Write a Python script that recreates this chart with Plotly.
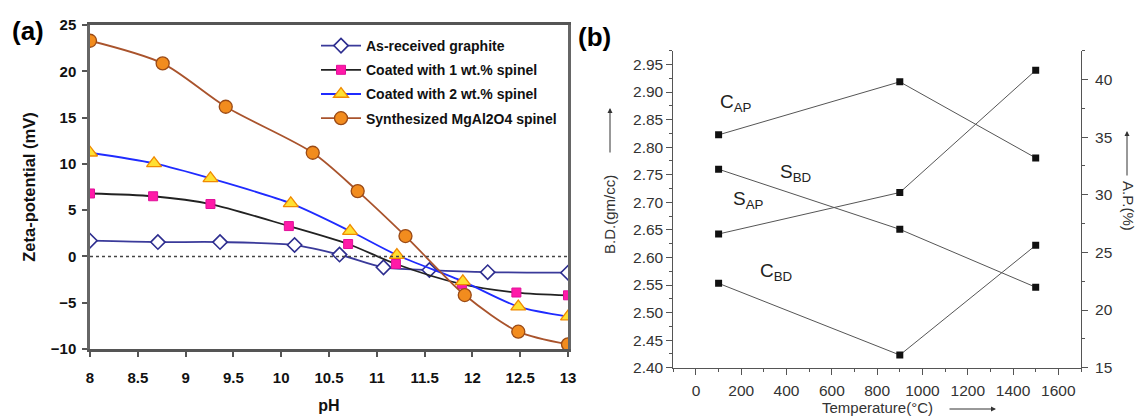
import plotly.graph_objects as go

# ---------------- Data: panel (a) ----------------
ph_graphite = [8.0, 8.71, 9.36, 10.14, 10.61, 11.07, 11.55, 12.16, 13.0]
zeta_graphite = [1.7, 1.55, 1.55, 1.23, 0.2, -1.18, -1.47, -1.7, -1.76]

ph_1wt = [8.0, 8.66, 9.26, 10.08, 10.70, 11.20, 11.89, 12.46, 13.0]
zeta_1wt = [6.8, 6.5, 5.66, 3.28, 1.34, -0.82, -3.0, -3.9, -4.2]

ph_2wt = [8.0, 8.67, 9.26, 10.10, 10.72, 11.21, 11.90, 12.48, 13.0]
zeta_2wt = [11.2, 10.05, 8.43, 5.73, 2.74, 0.15, -2.7, -5.43, -6.5]

ph_spinel = [8.0, 8.76, 9.42, 10.33, 10.80, 11.30, 11.92, 12.48, 13.0]
zeta_spinel = [23.3, 20.85, 16.17, 11.2, 7.06, 2.2, -4.17, -8.13, -9.5]

names_a = ["As-received graphite", "Coated with 1 wt.% spinel",
           "Coated with 2 wt.% spinel", "Synthesized MgAl2O4 spinel"]
x_ticks_a = [8, 8.5, 9, 9.5, 10, 10.5, 11, 11.5, 12, 12.5, 13]
x_tick_labels_a = ["8", "8.5", "9", "9.5", "10", "10.5", "11", "11.5", "12", "12.5", "13"]

# ---------------- Data: panel (b) ----------------
temperature = [100, 900, 1500]
c_ap = [35.2, 39.8, 33.2]      # right axis (A.P. %)
s_ap = [26.6, 30.2, 40.8]      # right axis (A.P. %)
s_bd = [2.760, 2.651, 2.546]   # left axis (B.D.)
c_bd = [2.553, 2.423, 2.622]   # left axis (B.D.)

fig = go.Figure()

bold_font = "Liberation Sans"

# ---- panel (a) traces ----
fig.add_trace(go.Scatter(
    x=ph_graphite, y=zeta_graphite, name=names_a[0], mode="lines+markers", legendgroup="g1",
    line=dict(color="#3a3a9a", width=1.8, shape="spline", smoothing=0.8),
    marker=dict(symbol="diamond", size=11, color="white", line=dict(color="#2d2d8f", width=1.6)),
    xaxis="x", yaxis="y"))
fig.add_trace(go.Scatter(
    x=ph_1wt, y=zeta_1wt, name=names_a[1], mode="lines+markers", legendgroup="g2",
    line=dict(color="#222222", width=1.8, shape="spline", smoothing=0.8),
    marker=dict(symbol="square", size=9, color="#ff1aa8", line=dict(color="#e0109a", width=1)),
    xaxis="x", yaxis="y"))
fig.add_trace(go.Scatter(
    x=ph_2wt, y=zeta_2wt, name=names_a[2], mode="lines+markers", legendgroup="g3",
    line=dict(color="#1f2bff", width=1.8, shape="spline", smoothing=0.8),
    marker=dict(symbol="triangle-up", size=13, color="#ffe033", line=dict(color="#f08a00", width=1.3)),
    xaxis="x", yaxis="y"))
fig.add_trace(go.Scatter(
    x=ph_spinel, y=zeta_spinel, name=names_a[3], mode="lines+markers", legendgroup="g4",
    line=dict(color="#a9532c", width=1.8, shape="spline", smoothing=0.8),
    marker=dict(symbol="circle", size=13, color="#f28c1e", line=dict(color="#9a4a16", width=1.3)),
    xaxis="x", yaxis="y"))

# ---- panel (b) traces ----
line_b = dict(color="#555555", width=1)
mark_b = dict(symbol="square", size=7, color="#111111")
fig.add_trace(go.Scatter(x=temperature, y=c_ap, mode="lines+markers", line=line_b, marker=mark_b,
                         showlegend=False, xaxis="x2", yaxis="y3"))
fig.add_trace(go.Scatter(x=temperature, y=s_ap, mode="lines+markers", line=line_b, marker=mark_b,
                         showlegend=False, xaxis="x2", yaxis="y3"))
fig.add_trace(go.Scatter(x=temperature, y=s_bd, mode="lines+markers", line=line_b, marker=mark_b,
                         showlegend=False, xaxis="x2", yaxis="y2"))
fig.add_trace(go.Scatter(x=temperature, y=c_bd, mode="lines+markers", line=line_b, marker=mark_b,
                         showlegend=False, xaxis="x2", yaxis="y2"))

W, H = 1136, 416

def px_x(p):
    return p / W

def px_y(p):
    return (H - p) / H

tick_font_b = dict(family="Liberation Sans", size=15.5, color="#333333")

fig.update_layout(
    width=W, height=H,
    margin=dict(l=0, r=0, t=0, b=0, autoexpand=False),
    paper_bgcolor="white", plot_bgcolor="white",
    showlegend=True,
    legend=dict(x=px_x(562), xanchor="right", y=px_y(30), yanchor="top",
                bgcolor="rgba(255,255,255,0)", borderwidth=0,
                font=dict(family=bold_font, size=14, color="#111111", weight="bold"),
                tracegroupgap=3, itemwidth=40),
    xaxis=dict(domain=[px_x(90), px_x(568)], range=[8, 13], automargin=False,
               tickvals=x_ticks_a, ticktext=x_tick_labels_a,
               showgrid=False, zeroline=False,
               showline=True, linecolor="#555555", linewidth=2.5, mirror=True,
               ticks="outside", ticklen=5, tickcolor="#555555", tickwidth=2,
               ticklabelstandoff=8,
               tickfont=dict(family=bold_font, size=15, color="#111111", weight="bold"),
               title=dict(text="pH", font=dict(family=bold_font, size=16, color="#111111", weight="bold"),
                          standoff=16),
               anchor="y"),
    yaxis=dict(domain=[px_y(349), px_y(25)], range=[-10, 25], dtick=5, automargin=False,
               showgrid=False, zeroline=False,
               showline=True, linecolor="#666666", linewidth=2.5, mirror=True,
               ticks="outside", ticklen=5, tickcolor="#555555", tickwidth=2,
               ticklabelstandoff=3,
               tickfont=dict(family=bold_font, size=15, color="#111111", weight="bold"),
               title=dict(text="Zeta-potential (mV)",
                          font=dict(family=bold_font, size=16.5, color="#111111", weight="bold"),
                          standoff=12),
               anchor="x"),
    xaxis2=dict(domain=[px_x(673.3), px_x(1081)], range=[-100, 1700], automargin=False,
                tickvals=[0, 200, 400, 600, 800, 1000, 1200, 1400, 1600],
                showgrid=False, zeroline=False,
                showline=True, linecolor="#555555", linewidth=1,
                ticks="outside", ticklen=6, tickcolor="#555555", tickwidth=1,
                ticklabelstandoff=3,
                minor=dict(dtick=100, tick0=0, ticks="outside", ticklen=3, tickcolor="#555555"),
                tickfont=tick_font_b,
                anchor="y2"),
    yaxis2=dict(domain=[px_y(367.7), px_y(50.7)], range=[2.40, 2.975], automargin=False,
                dtick=0.05, tick0=2.40, tickformat=".2f",
                showgrid=False, zeroline=False,
                showline=True, linecolor="#555555", linewidth=1,
                ticks="outside", ticklen=6, tickcolor="#555555", tickwidth=1,
                minor=dict(dtick=0.025, tick0=2.40, ticks="outside", ticklen=3, tickcolor="#555555"),
                tickfont=tick_font_b,
                anchor="x2"),
    yaxis3=dict(range=[15, 42.5], dtick=5, tick0=15, overlaying="y2", side="right", automargin=False,
                showgrid=False, zeroline=False,
                showline=True, linecolor="#555555", linewidth=1,
                ticks="outside", ticklen=6, tickcolor="#555555", tickwidth=1,
                ticklabelstandoff=4,
                minor=dict(dtick=2.5, tick0=15, ticks="outside", ticklen=3, tickcolor="#555555"),
                tickfont=tick_font_b,
                anchor="x2"),
)

# zero reference dotted line in panel (a)
fig.add_shape(type="line", xref="x domain", yref="y", x0=0, x1=1, y0=0, y1=0,
              line=dict(color="#444444", width=1.5, dash="dot"))

ann = []
# panel letters
ann.append(dict(text="<b>(a)</b>", xref="paper", yref="paper", x=px_x(10), y=px_y(31),
                xanchor="left", yanchor="middle", showarrow=False,
                font=dict(family=bold_font, size=26, color="#000000")))
ann.append(dict(text="<b>(b)</b>", xref="paper", yref="paper", x=px_x(576), y=px_y(37),
                xanchor="left", yanchor="middle", showarrow=False,
                font=dict(family=bold_font, size=26, color="#000000")))

# series labels panel (b)
lab_font = dict(family="Liberation Sans", size=19, color="#222222")
series_labels = [("C<sub>AP</sub>", 176, 2.880), ("S<sub>BD</sub>", 438, 2.753),
                 ("S<sub>AP</sub>", 231, 2.704), ("C<sub>BD</sub>", 354, 2.574)]
for t, xx, yy in series_labels:
    ann.append(dict(text=t, xref="x2", yref="y2", x=xx, y=yy, showarrow=False, font=lab_font,
                    xanchor="center", yanchor="middle"))

# axis titles panel (b)
ax_font = dict(family="Liberation Sans", size=15, color="#333333")
ann.append(dict(text="B.D.(gm/cc)", xref="paper", yref="paper", x=px_x(609), y=px_y(215),
                xanchor="center", yanchor="middle",
                textangle=-90, showarrow=False, font=ax_font))
ann.append(dict(text="", xref="paper", yref="paper", x=px_x(610), y=px_y(108),
                ax=0, ay=46, showarrow=True, arrowhead=2, arrowsize=1, arrowwidth=1,
                arrowcolor="#333333"))
ann.append(dict(text="A.P.(%)", xref="paper", yref="paper", x=px_x(1129), y=px_y(206),
                xanchor="center", yanchor="middle",
                textangle=90, showarrow=False, font=ax_font))
ann.append(dict(text="", xref="paper", yref="paper", x=px_x(1127), y=px_y(131),
                ax=0, ay=46, showarrow=True, arrowhead=2, arrowsize=1, arrowwidth=1,
                arrowcolor="#333333"))
ann.append(dict(text="Temperature(\u00b0C)", xref="paper", yref="paper", x=px_x(877), y=px_y(407),
                xanchor="center", yanchor="middle",
                showarrow=False, font=ax_font))
ann.append(dict(text="", xref="paper", yref="paper", x=px_x(996), y=px_y(409),
                ax=-48, ay=0, showarrow=True, arrowhead=2, arrowsize=1, arrowwidth=1,
                arrowcolor="#333333"))

fig.update_layout(annotations=ann)

fig.write_html("out.html")
